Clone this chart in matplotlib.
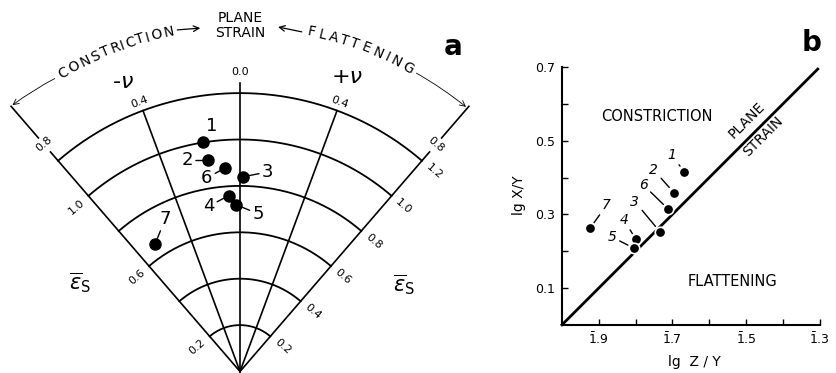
import numpy as np
import matplotlib.pyplot as plt
from matplotlib.textpath import TextPath
from matplotlib.font_manager import FontProperties

# muestras (numeradas igual en los dos paneles)
muestras = ['1', '2', '3', '4', '5', '6', '7']

# panel a: diagrama de Hsu (nu de Lode, deformacion natural eps_s)
nu = [-0.18, -0.17, 0.02, -0.07, -0.03, -0.08, -0.66]
eps_s = [1.00, 0.92, 0.84, 0.76, 0.72, 0.88, 0.66]
arcos_eps = [0.2, 0.4, 0.6, 0.8, 1.0, 1.2]
radios_nu = [-0.8, -0.4, 0.0, 0.4, 0.8]
etiq_eps_der = ['0.2', '0.4', '0.6', '0.8', '1.0', '1.2']
etiq_eps_izq = ['0.2', '0.6', '1.0']

# panel b: lg X/Y contra lg Z/Y
lg_zy = [-0.332, -0.304, -0.266, -0.201, -0.196, -0.289, -0.076]
lg_xy = [0.416, 0.359, 0.253, 0.232, 0.208, 0.314, 0.262]
ticks_x = [-0.1, -0.3, -0.5, -0.7]
etiq_x = [r'$\bar{1}$.9', r'$\bar{1}$.7', r'$\bar{1}$.5', r'$\bar{1}$.3']
ticks_y = [0.1, 0.3, 0.5, 0.7]
etiq_y = ['0.1', '0.3', '0.5', '0.7']

# desplazamientos de los numeros (en puntos)
offs_a = [(6.5, 12), (-14.7, 0), (17.3, 3.3), (-14.7, -7.7), (16.3, -6.7), (-13.5, -7.2), (7.2, 18)]
offs_b = [(-8.9, 12), (-14.4, 16.3), (-18, 21.6), (-8.6, 13.9), (-15.6, 7.9), (-18, 17.5), (12, 16.8)]

K = 51.0  # grados por unidad de nu
TB = 0.8 * K


def polar(r, t):
    t = np.radians(t)
    return r * np.sin(t), r * np.cos(t)


def texto_curvo(ax, s, r, t0, t1, size):
    fp = FontProperties(family='DejaVu Sans', size=size)
    centros = []
    for i, ch in enumerate(s):
        x1 = TextPath((0, 0), s[:i + 1], prop=fp).get_extents().x1
        w = TextPath((0, 0), ch, prop=fp).get_extents().width
        centros.append(x1 - w / 2)
    for ch, c in zip(s, centros):
        t = t0 + (t1 - t0) * (c - centros[0]) / (centros[-1] - centros[0])
        x, y = polar(r, t)
        ax.text(x, y, ch, fontsize=size, rotation=-t, rotation_mode='anchor',
                ha='center', va='center')


fig = plt.figure(figsize=(8.37, 3.73), dpi=100)

# ---------------- panel a ----------------
axa = fig.add_axes([0, 0, 480 / 837, 1])
axa.set_xlim(-240 / 232, 240 / 232)
axa.set_ylim(-1.5 / 232, 371.5 / 232)
axa.axis('off')

t = np.linspace(-TB, TB, 200)
for e in arcos_eps:
    x, y = polar(e, t)
    axa.plot(x, y, color='black', lw=1.3, clip_on=False)

for v in radios_nu:
    tv = v * K
    if abs(v) == 0.8:
        tramos = [(0, 1.25), (1.33, 1.51)]
    elif v == 0:
        tramos = [(0, 1.245)]
    else:
        tramos = [(0, 1.2)]
    for r0, r1 in tramos:
        x, y = polar(np.array([r0, r1]), tv)
        axa.plot(x, y, color='black', lw=1.2, clip_on=False)

# etiquetas de eps_s en los bordes
tr = np.radians(TB)
for lab in etiq_eps_der:
    x, y = polar(float(lab), TB)
    axa.text(x + 0.07 * np.cos(tr), y - 0.07 * np.sin(tr), lab, fontsize=8,
             rotation=-TB, ha='center', va='center')
for lab in etiq_eps_izq:
    x, y = polar(float(lab), -TB)
    axa.text(x - 0.07 * np.cos(tr), y - 0.07 * np.sin(tr), lab, fontsize=8,
             rotation=TB, ha='center', va='center')

# etiquetas de nu
for v in radios_nu:
    rr = {0.0: 1.29, 0.4: 1.237, 0.8: 1.295}[abs(v)]
    x, y = polar(rr, v * K)
    axa.text(x, y, f'{abs(v):.1f}', fontsize=8, rotation=-v * K,
             ha='center', va='center')

x, y = polar(1.346, -22)
axa.text(x, y, '-ν', fontsize=16, style='italic', ha='center', va='center')
x, y = polar(1.35, 20)
axa.text(x, y, '+ν', fontsize=16, style='italic', ha='center', va='center')

x, y = polar(0.79, -61)
axa.text(x, y, r'$\overline{\epsilon}_{\rm S}$', fontsize=15, ha='center', va='center')
x, y = polar(0.80, 62)
axa.text(x, y, r'$\overline{\epsilon}_{\rm S}$', fontsize=15, ha='center', va='center')

# texto superior
texto_curvo(axa, 'CONSTRICTION', 1.495, -30.6, -11.9, 10)
texto_curvo(axa, 'FLATTENING', 1.495, 11.9, 29.0, 10)
axa.text(0, 1.524, 'PLANE', fontsize=10, ha='center', va='center')
axa.text(0, 1.459, 'STRAIN', fontsize=10, ha='center', va='center')
flecha = dict(arrowstyle='->', color='black', lw=0.9, shrinkA=0, shrinkB=0)
axa.annotate('', xy=polar(1.49, -6.6), xytext=polar(1.497, -10.4), arrowprops=flecha)
axa.annotate('', xy=polar(1.494, 6.3), xytext=polar(1.488, 10.3), arrowprops=flecha)
fina = dict(arrowstyle='->', color='black', lw=0.6, shrinkA=0, shrinkB=0)
axa.annotate('', xy=polar(1.51, -40.5), xytext=polar(1.494, -32.3),
             arrowprops=dict(fina, connectionstyle='arc3,rad=0.04'))
axa.annotate('', xy=polar(1.50, 40.5), xytext=polar(1.494, 30.6),
             arrowprops=dict(fina, connectionstyle='arc3,rad=-0.04'))

# muestras
ta = np.radians(np.array(nu) * K)
xa = np.array(eps_s) * np.sin(ta)
ya = np.array(eps_s) * np.cos(ta)
axa.plot(xa, ya, 'o', color='black', ms=8, zorder=5)
for m, x, y, o in zip(muestras, xa, ya, offs_a):
    axa.annotate(m, xy=(x, y), xytext=o, textcoords='offset points', fontsize=13,
                 ha='center', va='center',
                 arrowprops=dict(arrowstyle='-', color='black', lw=1,
                                 shrinkA=0, shrinkB=4))

axa.text(0.944, 0.875, 'a', transform=axa.transAxes, fontsize=20,
         fontweight='bold', ha='center', va='center')

# ---------------- panel b ----------------
axb = fig.add_axes([562 / 837, 48.2 / 373, 257.6 / 837, 257.6 / 373])
axb.set_xlim(0, -0.7)
axb.set_ylim(0, 0.7)
for s in ['top', 'right']:
    axb.spines[s].set_visible(False)
for s in ['left', 'bottom']:
    axb.spines[s].set_linewidth(1.5)
axb.set_xticks(ticks_x)
axb.set_xticklabels(etiq_x)
axb.set_xticks([-0.2, -0.4, -0.6], minor=True)
axb.set_yticks(ticks_y)
axb.set_yticklabels(etiq_y)
axb.set_yticks([0.2, 0.4, 0.6], minor=True)
axb.tick_params(which='both', direction='in', length=4, width=1, labelsize=9)
axb.tick_params(axis='x', pad=5)
axb.tick_params(axis='y', pad=5)

axb.plot([0, -0.695], [0, 0.695], color='black', lw=2, zorder=3, clip_on=False)
axb.plot(lg_zy, lg_xy, 'o', color='black', ms=7.5, mec='white', mew=1.2,
         zorder=5, clip_on=False)
for m, x, y, o in zip(muestras, lg_zy, lg_xy, offs_b):
    axb.annotate(m, xy=(x, y), xytext=o, textcoords='offset points', fontsize=10,
                 style='italic', ha='center', va='center',
                 arrowprops=dict(arrowstyle='-', color='black', lw=1,
                                 shrinkA=0, shrinkB=5))

axb.text(-0.257, 0.566, 'CONSTRICTION', fontsize=10.5, ha='center', va='center')
axb.text(-0.464, 0.117, 'FLATTENING', fontsize=10.5, ha='center', va='center')
axb.text(-0.502, 0.556, 'PLANE', fontsize=10, rotation=45, ha='center', va='center')
axb.text(-0.547, 0.511, 'STRAIN', fontsize=10, rotation=45, ha='center', va='center')
axb.text(-0.168, 0.503, 'lg X/Y', transform=axb.transAxes, fontsize=10,
         rotation=90, ha='center', va='center')
axb.text(0.514, -0.1425, 'lg  Z / Y', transform=axb.transAxes, fontsize=10,
         ha='center', va='center')

fig.text(0.970, 0.885, 'b', fontsize=20, fontweight='bold', ha='center', va='center')

fig.savefig('out.png', dpi=100)
